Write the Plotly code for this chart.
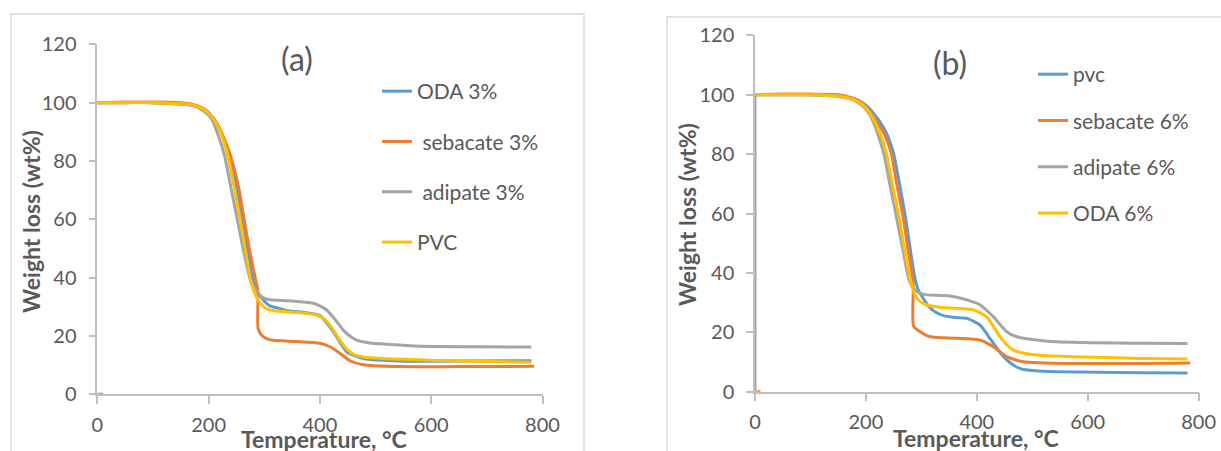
import plotly.graph_objects as go

# ---------------- Panel (a) data ----------------
a_oda_T = [0, 50, 100, 150, 172, 192, 208, 221, 236, 251, 261, 272, 281, 290, 300, 310, 322, 340, 370, 400, 424, 448, 478, 520, 568, 650, 780]
a_oda_W = [100, 100, 100, 99.5, 99.2, 97.6, 94.8, 90.5, 81.5, 70, 58.6, 47.2, 38, 34.5, 32, 30.3, 29.7, 28.7, 28.1, 27, 21.5, 14.6, 12.3, 11.6, 11.3, 11.4, 11.5]

a_seb_T = [0, 10, None, 0, 50, 100, 150, 172, 195, 215, 229, 240, 255, 265, 276, 286, 288.5, 289, 295, 305, 316, 358, 400, 418, 436, 454, 478, 538, 650, 785]
a_seb_W = [0, 0, None, 100, 100.2, 100.2, 100, 99.4, 97.5, 92.9, 87.2, 81.5, 70, 58.6, 47.2, 38, 35.5, 22.5, 20.3, 19, 18.5, 18.1, 17.5, 16.3, 14.1, 11.5, 10.1, 9.5, 9.5, 9.6]

a_adi_T = [0, 50, 100, 150, 172, 190, 205, 217, 229, 241, 253, 265, 277, 286, 292, 300, 310, 350, 388, 400, 412, 428, 442, 455, 466, 490, 508, 568, 688, 780]
a_adi_W = [100, 100, 100, 99.5, 99, 97.3, 94.5, 89, 81.5, 70, 58.6, 47.2, 38, 35.5, 34, 33, 32.4, 32, 31.2, 30.3, 28.9, 25.5, 22, 19.8, 18.6, 17.6, 17.3, 16.6, 16.3, 16.2]

a_pvc_T = [0, 6, None, 0, 50, 100, 150, 172, 190, 205.5, 220, 235, 247, 258, 268, 277, 289, 300, 310, 340, 370, 394, 410, 424, 436, 448, 462, 478, 520, 568, 650, 780]
a_pvc_W = [0, 0, None, 100, 100, 100, 99.6, 99.2, 97.8, 95.2, 90.6, 81.5, 70, 58.6, 47.2, 38, 32.3, 29.8, 28.9, 28.3, 27.9, 27.2, 25.5, 22, 18.5, 15.5, 13.6, 12.8, 12.2, 11.9, 11.4, 11.0]

# ---------------- Panel (b) data ----------------
b_pvc_T = [0, 50, 100, 150, 180, 200, 216, 236, 249, 261, 271.7, 280.7, 288.5, 295, 303.6, 314, 324.6, 340, 360, 382, 406, 418, 430, 442, 454, 470, 484, 520, 544, 694, 780]
b_pvc_W = [100, 100, 100, 99.5, 98.6, 96.5, 93.2, 87.5, 80.8, 69.6, 58.4, 47.1, 38.2, 34, 31.4, 28.5, 26.9, 25.6, 25, 24.7, 22.4, 19.5, 16.3, 13.2, 10.7, 8.5, 7.5, 6.9, 6.7, 6.4, 6.3]

b_seb_T = [0, 10, None, 0, 50, 100, 150, 180, 198, 215, 233, 245, 256, 267.5, 276.5, 284.4, 285.5, 286, 298, 316, 364, 406, 430, 454, 484, 574, 785]
b_seb_W = [0, 0, None, 100, 100.2, 100.2, 100, 98.6, 96.5, 92.3, 86.8, 80.8, 69.6, 58.4, 47.1, 38.2, 35, 22.1, 20.2, 18.5, 18, 17.4, 15.1, 11.8, 10.1, 9.5, 9.7]

b_adi_T = [0, 0, None, 0, 50, 100, 150, 180, 198, 213, 231.4, 243.5, 255.5, 267.5, 277, 285, 297.6, 310, 351.7, 382, 406, 430, 454, 470, 484, 544, 694, 780]
b_adi_W = [0, 100, None, 100, 100, 100, 99.5, 98, 95.5, 91, 80.8, 69.6, 58.4, 47.1, 38.2, 35, 33.1, 32.6, 32.2, 30.9, 29.2, 25.2, 20.2, 18.6, 18, 16.8, 16.3, 16.2]

b_oda_T = [0, 6, None, 0, 50, 100, 150, 180, 198, 213, 226.6, 236, 248, 260, 270.5, 279.5, 288.5, 298, 309.6, 334, 394, 418, 430, 442, 454, 466, 490, 514, 574, 694, 780]
b_oda_W = [0, 0, None, 100, 100, 100, 99.5, 98.2, 96, 92, 86.4, 80.8, 69.6, 58.4, 47.1, 38.2, 32.6, 30.3, 29.2, 28.4, 27.5, 25.2, 22, 18.5, 15.8, 14, 12.8, 12.3, 11.8, 11.2, 11.0]

names_a = ["ODA 3%", "\u00a0sebacate 3%", "\u00a0adipate 3%", "PVC"]
names_b = ["pvc", "sebacate 6%", "adipate 6%", "ODA 6%"]
x_ticks = [0, 200, 400, 600, 800]
y_ticks = [0, 20, 40, 60, 80, 100, 120]

BLUE, ORANGE, GRAY, YELLOW = "#5B9BD5", "#ED7D31", "#A5A5A5", "#FFC000"
TXT = "#595959"
FONT = "Lato"

fig = go.Figure()

series_a = [(a_oda_T, a_oda_W, BLUE), (a_seb_T, a_seb_W, ORANGE), (a_adi_T, a_adi_W, GRAY), (a_pvc_T, a_pvc_W, YELLOW)]
series_b = [(b_pvc_T, b_pvc_W, BLUE), (b_seb_T, b_seb_W, ORANGE), (b_adi_T, b_adi_W, GRAY), (b_oda_T, b_oda_W, YELLOW)]

for i, ((t, w, c), n) in enumerate(zip(series_a, names_a)):
    fig.add_trace(go.Scatter(x=t, y=w, mode="lines", name=n, legend="legend", legendgroup=f"a{i}",
                             line=dict(color=c, width=3, shape="spline", smoothing=0.6),
                             xaxis="x", yaxis="y", connectgaps=False, cliponaxis=False))
for i, ((t, w, c), n) in enumerate(zip(series_b, names_b)):
    fig.add_trace(go.Scatter(x=t, y=w, mode="lines", name=n, legend="legend2", legendgroup=f"b{i}",
                             line=dict(color=c, width=3, shape="spline", smoothing=0.6),
                             xaxis="x2", yaxis="y2", connectgaps=False, cliponaxis=False))

W_, H_ = 1221, 451
def px_x(p):
    return p / W_
def px_y(p):
    return (H_ - p) / H_

axis_common = dict(showgrid=False, zeroline=False, showline=True, linecolor="#BFBFBF", linewidth=1.5,
                   ticks="outside", tickcolor="#BFBFBF", tickwidth=1.5, automargin=False,
                   tickfont=dict(family=FONT, size=20, color=TXT))

def ann(text, x, y, size, angle=0):
    return dict(text=text, x=px_x(x), y=px_y(y), xref="paper", yref="paper", showarrow=False,
                xanchor="center", yanchor="middle", textangle=angle,
                font=dict(family=FONT, size=size, color=TXT))

fig.update_layout(
    template="none",
    width=W_, height=H_, margin=dict(l=0, r=0, t=0, b=0, autoexpand=False),
    paper_bgcolor="white", plot_bgcolor="white",
    showlegend=True,
    xaxis=dict(domain=[px_x(97.3), px_x(542.5)], range=[0, 800], tickvals=x_ticks, ticklen=8,
               ticklabelstandoff=4, anchor="y", **axis_common),
    yaxis=dict(domain=[px_y(394.3), px_y(44.3)], range=[0, 120], tickvals=y_ticks, ticklen=7,
               ticklabelstandoff=8, anchor="x", **axis_common),
    xaxis2=dict(domain=[px_x(755), px_x(1198.6)], range=[0, 800], tickvals=x_ticks, ticklen=8,
                ticklabelstandoff=4, anchor="y2", **axis_common),
    yaxis2=dict(domain=[px_y(391.7), px_y(35.3)], range=[0, 120], tickvals=y_ticks, ticklen=7,
                ticklabelstandoff=8, anchor="x2", **axis_common),
    legend=dict(x=px_x(377), y=px_y(71), xanchor="left", yanchor="top", bgcolor="rgba(0,0,0,0)",
                font=dict(family=FONT, size=21, color=TXT), tracegroupgap=20, itemclick=False),
    legend2=dict(x=px_x(1033), y=px_y(54), xanchor="left", yanchor="top", bgcolor="rgba(0,0,0,0)",
                 font=dict(family=FONT, size=21, color=TXT), tracegroupgap=16, itemclick=False),
    shapes=[
        dict(type="rect", xref="paper", yref="paper", x0=px_x(11), x1=px_x(584), y0=-0.1, y1=px_y(14),
             line=dict(color="#D9D9D9", width=1.5), layer="below"),
        dict(type="rect", xref="paper", yref="paper", x0=px_x(667), x1=1.1, y0=-0.1, y1=px_y(17),
             line=dict(color="#D9D9D9", width=1.5), layer="below"),
    ],
    annotations=[
        ann("(a)", 297, 58, 32),
        ann("(b)", 950, 63, 32),
        ann("<b>Weight loss (wt%)</b>", 31, 222, 23, -90),
        ann("<b>Weight loss (wt%)</b>", 687, 215, 23, -90),
        ann("<b>Temperature, °C</b>", 324, 439, 23),
        ann("<b>Temperature, °C</b>", 976, 438, 23),
    ],
)

fig.write_html("out.html", config={"displayModeBar": False},
               post_script="document.body.style.margin='0px';")
